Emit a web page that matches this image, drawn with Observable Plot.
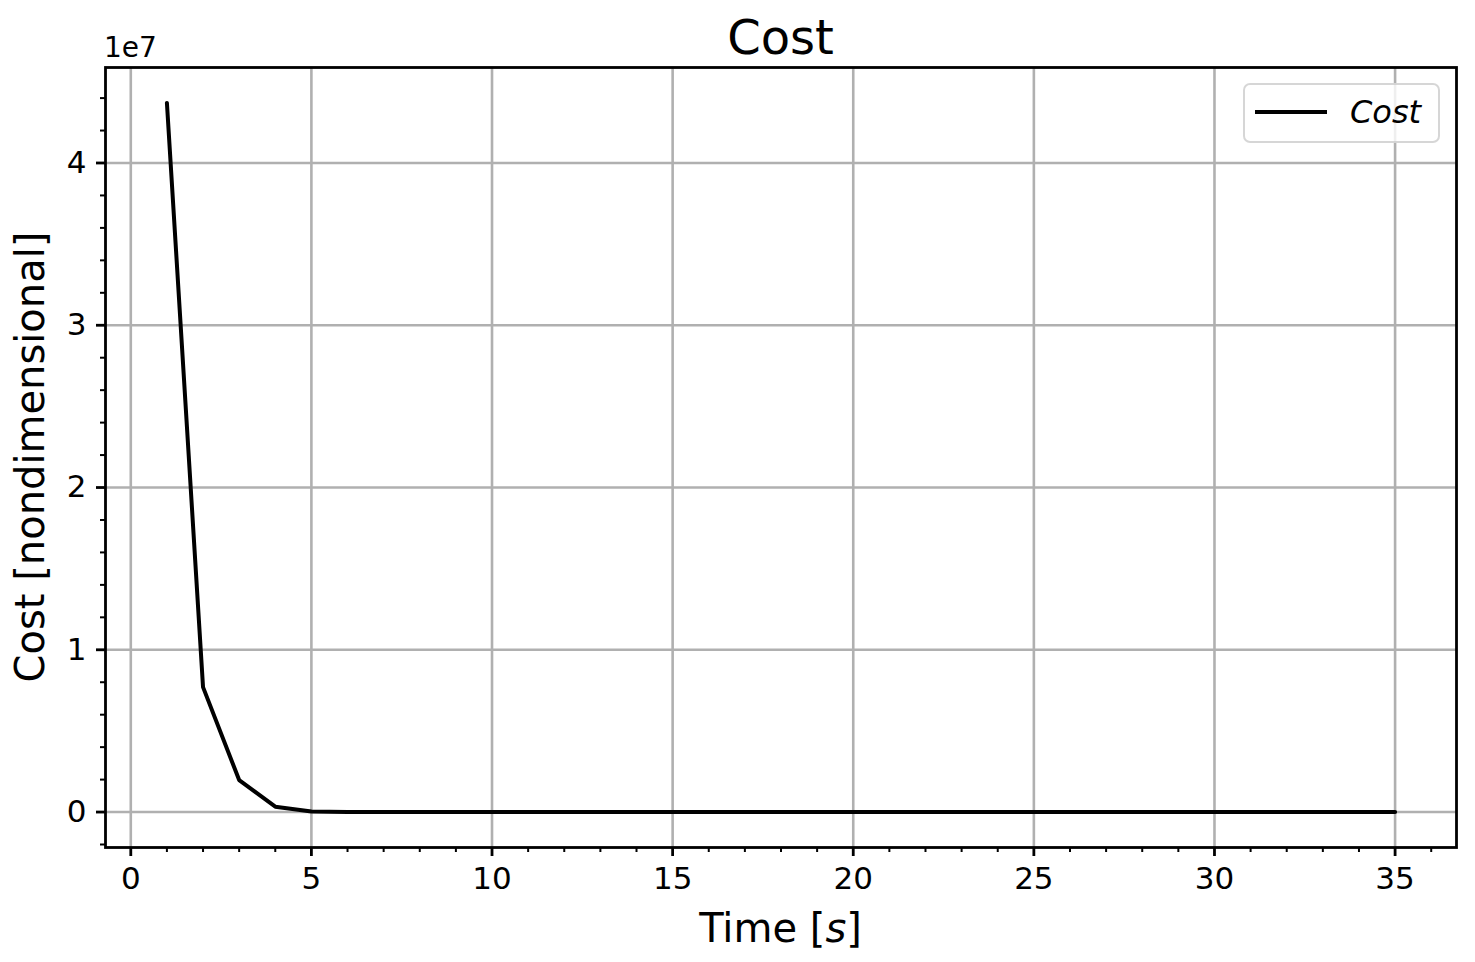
<!DOCTYPE html>
<html><head><meta charset="utf-8">
<script src="https://cdn.jsdelivr.net/npm/d3@7"></script>
<script src="https://cdn.jsdelivr.net/npm/@observablehq/plot@0.6"></script>
<style>
body{margin:0;background:#fff;font-family:"DejaVu Sans",sans-serif;}
#wrap{position:relative;width:1475px;height:962px;overflow:hidden;background:#fff}
#wrap svg{position:absolute;left:0;top:0}
.t{position:absolute;white-space:nowrap;color:#000;line-height:1;font-family:"DejaVu Sans",sans-serif}
</style></head><body><div id="wrap"></div>
<script>
// ---- data ----
const times = [1,2,3,4,5,6,7,8,9,10,11,12,13,14,15,16,17,18,19,20,21,22,23,24,25,26,27,28,29,30,31,32,33,34,35];
const cost = [43700000, 7700000, 1970000, 330000, 30000,
  0,0,0,0,0,0,0,0,0,0,0,0,0,0,0,0,0,0,0,0,0,0,0,0,0,0,0,0,0,0];
const xMajorTicks = [0,5,10,15,20,25,30,35];
const xMinorTicks = [1,2,3,4,6,7,8,9,11,12,13,14,16,17,18,19,21,22,23,24,26,27,28,29,31,32,33,34,36];
const yMajorTicks = [0,10000000,20000000,30000000,40000000];
const yMinorTicks = [-2000000,2000000,4000000,6000000,8000000,12000000,14000000,16000000,18000000,
  22000000,24000000,26000000,28000000,32000000,34000000,36000000,38000000,42000000,44000000];
const titleText = "Cost";
const seriesName = "Cost";

const data = times.map((t, i) => ({t, c: cost[i]}));

const chart = Plot.plot({
  width: 1475, height: 962,
  marginLeft: 105, marginRight: 19, marginTop: 67, marginBottom: 115,
  style: {fontFamily: '"DejaVu Sans", sans-serif', fontSize: "31px", color: "black", background: "transparent", overflow: "visible"},
  x: {domain: [-0.7, 36.7]},
  y: {domain: [-2185000, 45885000]},
  marks: [
    Plot.gridX(xMajorTicks, {stroke: "#b0b0b0", strokeOpacity: 1, strokeWidth: 2.6}),
    Plot.gridY(yMajorTicks, {stroke: "#b0b0b0", strokeOpacity: 1, strokeWidth: 2.6}),
    Plot.lineY(data, {x: "t", y: "c", stroke: "black", strokeWidth: 4, strokeLinejoin: "miter"}),
    Plot.frame({stroke: "black", strokeWidth: 2.8}),
    Plot.axisX(xMajorTicks, {tickSize: 9, tickPadding: 10, strokeWidth: 2.8, label: null, fontSize: 31, tickFormat: d => String(d)}),
    Plot.axisX(xMinorTicks, {tickSize: 5, strokeWidth: 2, label: null, tickFormat: () => ""}),
    Plot.axisY(yMajorTicks, {tickSize: 9, tickPadding: 10, strokeWidth: 2.8, label: null, fontSize: 31, tickFormat: d => String(d / 1e7)}),
    Plot.axisY(yMinorTicks, {tickSize: 5, strokeWidth: 2, label: null, tickFormat: () => ""})
  ]
});

const wrap = document.getElementById("wrap");
wrap.appendChild(chart);

function addText(html, css) {
  const d = document.createElement("div");
  d.className = "t";
  d.innerHTML = html;
  Object.assign(d.style, css);
  wrap.appendChild(d);
  return d;
}
// title
addText(titleText, {left: "780.5px", top: "13px", fontSize: "48px", transform: "translateX(-50%)"});
// offset text
addText("1e7", {left: "104px", top: "34px", fontSize: "28px"});
// x label
addText('Time [<i>s</i>]', {left: "780.5px", top: "908px", fontSize: "40px", transform: "translateX(-50%)"});
// y label
addText("Cost [nondimensional]", {left: "30px", top: "457px", fontSize: "40px", transform: "translate(-50%,-50%) rotate(-90deg)"});

// legend
const leg = document.createElement("div");
Object.assign(leg.style, {position: "absolute", left: "1243px", top: "83px", width: "197px", height: "60px",
  boxSizing: "border-box", border: "2.5px solid rgba(204,204,204,0.8)", borderRadius: "7px", background: "rgba(255,255,255,0.8)"});
wrap.appendChild(leg);
const sample = document.createElement("div");
Object.assign(sample.style, {position: "absolute", left: "1255px", top: "110px", width: "72px", height: "4px", background: "#000"});
wrap.appendChild(sample);
addText("<i>" + seriesName + "</i>", {left: "1350px", top: "96px", fontSize: "32px"});
</script>
</body></html>
